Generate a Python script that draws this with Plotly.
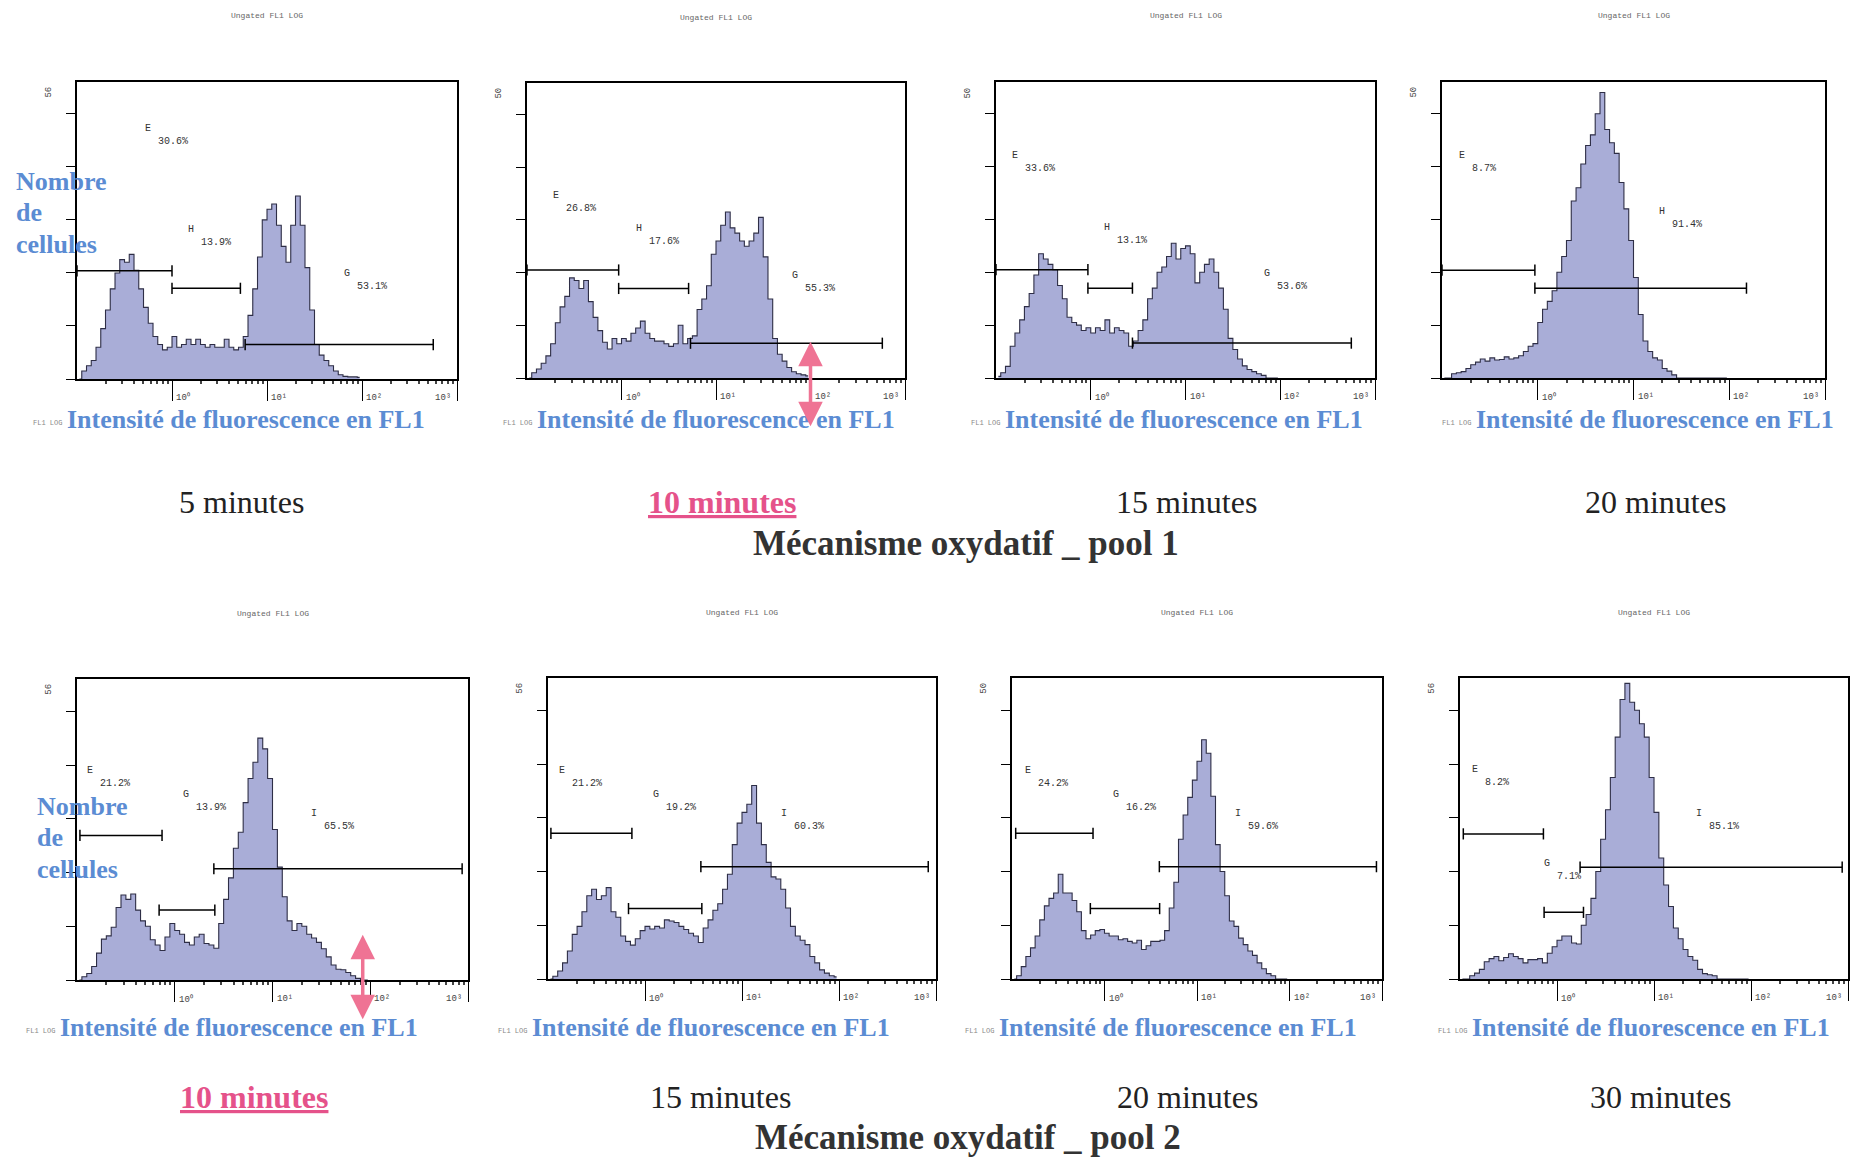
import plotly.graph_objects as go

W, H = 1854, 1158

# ---------------- data ----------------
# histogram bin centres, log10(FL1 intensity), 0.05-decade bins
log_bins = [round(-0.975 + 0.05 * i, 3) for i in range(60)]

counts_p1 = [0, 1.5, 2.5, 3.5, 6, 9.5, 13, 17, 20, 22.5,
             22, 23.5, 20.5, 17, 13.5, 10.5, 8, 6.5, 5.5, 6,
             8, 6, 6.5, 7.5, 6.5, 7.5, 6.5, 6, 6.5, 6,
             6, 7.5, 6, 5.5, 6, 8, 12, 17, 23, 30,
             32, 33, 29, 25, 22, 29, 34.5, 29, 21, 13,
             6.5, 4.5, 3.5, 2.5, 1.5, 0.8, 0.5, 0.4, 0.4, 0.3]
counts_p2 = [0, 1, 1.7, 2.8, 4.2, 6.5, 10.5, 13.5, 15.5, 19,
             18.5, 17, 18.5, 14.5, 11.5, 9, 6.8, 5.5, 7.5, 6.5,
             7.5, 7, 8.5, 9.5, 10.8, 8.5, 7.5, 7, 7, 6.5,
             6, 6.5, 10, 6.5, 7.5, 8, 13, 15, 17.5, 23.5,
             26, 29, 31.5, 28.5, 27.5, 26, 25, 26, 27.5, 30.5,
             23, 15, 7.5, 4.5, 3.2, 2, 1.2, 0.8, 0.6, 0.4]
counts_p3 = [0.3, 1, 2.2, 6, 8.5, 11, 13.5, 16, 19.5, 23.5,
             22.5, 21.5, 20.5, 17.5, 15, 11.5, 10.5, 10, 9, 9.5,
             8.5, 9.5, 9, 11, 8.5, 9.5, 9, 8.5, 6, 7,
             9, 11, 15, 17, 20, 21, 23, 25.5, 22.5, 24.5,
             25, 23.5, 18, 20, 21.5, 22.5, 20, 17, 13, 7.5,
             5.4, 3.6, 2.3, 1.6, 1.2, 0.8, 0.5, 0, 0, 0]
counts_p4 = [0, 0, 0.8, 1, 1.2, 1.8, 2.5, 3, 3.6, 3.2,
             3.8, 3.4, 3.5, 4, 3.6, 3.8, 4.2, 5, 6, 6.5,
             10.5, 13, 14.5, 16.5, 20, 23, 26, 33.5, 36, 40.5,
             44, 46, 50, 54, 47, 44.5, 42.5, 37, 32, 26,
             19, 12, 7, 5, 3.8, 3.4, 1.8, 1.3, 0.6, 0,
             0, 0, 0, 0, 0, 0, 0, 0, 0, 0]
counts_p5 = [0, 0.6, 1.2, 2.5, 5, 7.6, 8.2, 9.8, 13.5, 15.8,
             15, 16, 13, 11, 10, 7.5, 6.5, 5.5, 8, 10.5,
             9.2, 8.5, 7, 6.5, 8, 8.5, 6.8, 6.5, 5.9, 10.5,
             15, 19, 24.5, 27.5, 33, 37.5, 40.5, 45, 43, 37.5,
             28, 21, 15.5, 11, 9.2, 10.5, 10, 8.5, 7.8, 7,
             5.8, 4.3, 2.8, 2, 1.9, 1.4, 0.8, 0.3, 0, 0]
counts_p6 = [0, 0.5, 1.5, 3, 5.2, 8.3, 9.8, 12.5, 15.5, 16.7,
             14.8, 15.5, 17, 12.5, 11.5, 8, 7, 6.3, 7.5, 9,
             9.8, 9.3, 9.8, 9.5, 11, 10.8, 10.5, 9.8, 9.2, 8.5,
             8, 6.8, 9.5, 11, 12.8, 14, 16.7, 19.5, 25, 29,
             31, 32.5, 36, 29, 25, 21.7, 19, 18.6, 16.7, 13.2,
             9.8, 8, 7.2, 6.4, 4.2, 3, 1.7, 1.1, 0.6, 0.4]
counts_p7 = [0, 0.6, 2.3, 4.2, 5.8, 8, 11, 13.6, 15, 16,
             19.5, 16, 16, 14.6, 12.5, 9, 7.5, 8.2, 9, 9.2,
             8.5, 8, 8, 7.3, 7.5, 7, 6.7, 7.2, 5.5, 6.2,
             7, 7, 7.2, 9, 13.2, 18, 26, 30.5, 33.8, 37,
             40.5, 44.5, 42, 34, 25, 20, 15.5, 10.8, 9.8, 7.6,
             6.4, 5.2, 4.4, 3, 1.9, 1, 0.6, 0, 0, 0]
counts_p8 = [0, 0, 0.6, 1.1, 1.8, 3.2, 3.8, 4.2, 3.4, 4,
             4.7, 4.2, 3.8, 3, 3.6, 3.6, 3.8, 3, 4.8, 6,
             7.2, 8, 8, 6.7, 6.5, 10, 12, 15, 20, 26,
             31.5, 37.5, 45, 52, 55, 51.5, 50, 47.5, 45, 37.5,
             31, 22.5, 17.5, 13.5, 9.5, 7.5, 5.5, 4.2, 3.5, 1.8,
             1, 0.8, 0.6, 0, 0, 0, 0, 0, 0, 0]
panel_counts = [counts_p1, counts_p2, counts_p3, counts_p4,
                counts_p5, counts_p6, counts_p7, counts_p8]

# gates: (name, start log10, end log10, level, percent, label log10, label level)
gates_p1 = [("E", -1.0, 0.0, 20.4, "30.6%", -0.25, 47.3),
            ("H", 0.0, 0.72, 17.1, "13.9%", 0.20, 28.1),
            ("G", 0.77, 2.75, 6.5, "53.1%", 1.84, 19.9)]
gates_p2 = [("E", -1.0, -0.03, 20.5, "26.8%", -0.69, 34.7),
            ("H", -0.03, 0.71, 17.0, "17.6%", 0.19, 28.4),
            ("G", 0.73, 2.76, 6.6, "55.3%", 1.84, 19.4)]
gates_p3 = [("E", -1.0, -0.03, 20.5, "33.6%", -0.80, 42.0),
            ("H", -0.03, 0.44, 17.0, "13.1%", 0.17, 28.4),
            ("G", 0.44, 2.75, 6.6, "53.6%", 1.86, 19.8)]
gates_p4 = [("E", -1.0, -0.03, 20.4, "8.7%", -0.79, 42.0),
            ("H", -0.03, 2.18, 17.0, "91.4%", 1.30, 31.5)]
gates_p5 = [("E", -0.97, -0.13, 26.9, "21.2%", -0.87, 39.0),
            ("G", -0.16, 0.41, 13.0, "13.9%", 0.12, 34.6),
            ("I", 0.40, 2.94, 20.7, "65.5%", 1.42, 30.9)]
gates_p6 = [("E", -0.97, -0.135, 27.1, "21.2%", -0.86, 38.8),
            ("G", -0.17, 0.586, 13.1, "19.2%", 0.115, 34.4),
            ("I", 0.576, 2.92, 20.9, "60.3%", 1.43, 30.8)]
gates_p7 = [("E", -0.96, -0.124, 27.1, "24.2%", -0.83, 38.8),
            ("G", -0.153, 0.596, 13.1, "16.2%", 0.128, 34.4),
            ("I", 0.593, 2.94, 20.9, "59.6%", 1.44, 30.7)]
gates_p8 = [("E", -0.966, -0.14, 27.0, "8.2%", -0.845, 39.0),
            ("G", -0.133, 0.273, 12.4, "7.1%", -0.106, 21.4),
            ("I", 0.238, 2.94, 20.8, "85.1%", 1.46, 30.8)]
panel_gates = [gates_p1, gates_p2, gates_p3, gates_p4,
               gates_p5, gates_p6, gates_p7, gates_p8]

ymax_labels = ["56", "50", "50", "50", "56", "56", "50", "56"]
decade_vals = [1, 10, 100, 1000]
decade_logs = [0, 1, 2, 3]
decade_labels = ["10⁰", "10¹", "10²", "10³"]
minor_vals = [m * 10.0 ** d for d in range(-1, 3) for m in range(2, 10)]

time_labels = ["5 minutes", "10 minutes", "15 minutes", "20 minutes",
               "10 minutes", "15 minutes", "20 minutes", "30 minutes"]
highlighted = [False, True, False, False, True, False, False, False]
pool_titles = ["Mécanisme oxydatif _ pool 1", "Mécanisme oxydatif _ pool 2"]
top_caption = "Ungated FL1 LOG"
axis_caption = "FL1 LOG"
x_title = "Intensité de fluorescence en FL1"
y_title_lines = ["Nombre", "de", "cellules"]

# arrows marking a position on the intensity axis: (panel, log10 FL1, count)
arrows = [(2, 2.0, 6.9), (5, 1.923, 8.4)]

# ---------------- layout geometry (pixels) ----------------
boxes = [(77, 457, 82, 379), (527, 905, 83, 378), (996, 1375, 82, 378), (1442, 1825, 82, 378),
         (77, 468, 679, 980), (548, 936, 678, 979), (1012, 1382, 678, 979), (1460, 1848, 678, 979)]
xlabel_cx = [246, 716, 1184, 1655, 239, 711, 1178, 1651]
xlabel_y = [419, 419, 419, 419, 1027, 1027, 1027, 1027]
xlabel_halfwidth = 180
time_cx = [241, 722, 1186, 1655, 254, 720, 1187, 1660]
time_y = [502, 502, 502, 502, 1097, 1097, 1097, 1097]
title_pos = [(966, 543), (968, 1137)]
ytitle_pos = [(14, [181, 213, 244]), (35, [806, 837, 869])]

BLUE = "#5b8cd3"
PINK = "#e5528a"
ARROW = "#ef7394"
SERIF = "Liberation Serif"
MONO = "Liberation Mono"


def px(x):
    return x / W


def py(y):
    return 1 - y / H


fig = go.Figure()
layout = dict(width=W, height=H, margin=dict(l=0, r=0, t=0, b=0),
              paper_bgcolor="white", plot_bgcolor="white", showlegend=False)
annotations = []

for k in range(1, 9):
    x0, x1, y0, y1 = boxes[k - 1]
    xs = "" if k == 1 else str(k)
    xname, yname = "x" + xs, "y" + xs
    layout["xaxis" + xs] = dict(
        domain=[px(x0), px(x1)], anchor=yname, type="log", range=[-1, 3],
        showline=True, mirror=True, linecolor="black", linewidth=1.5,
        ticks="outside", tickvals=decade_vals, ticklen=20, tickwidth=1,
        tickcolor="black", showticklabels=False, showgrid=False, zeroline=False,
        minor=dict(tickvals=minor_vals, ticks="outside", ticklen=3, tickwidth=1.5,
                   tickcolor="#444", showgrid=False))
    layout["yaxis" + xs] = dict(
        domain=[py(y1), py(y0)], anchor=xname, range=[0, 56],
        showline=True, mirror=True, linecolor="black", linewidth=1.5,
        ticks="outside", tickvals=[0, 10, 20, 30, 40, 50], ticklen=9, tickwidth=1.2,
        tickcolor="black", showticklabels=False, showgrid=False, zeroline=False)

    counts = panel_counts[k - 1]
    fig.add_trace(go.Scatter(
        x=[10 ** c for c in log_bins], y=counts, xaxis=xname, yaxis=yname,
        mode="lines", line=dict(shape="hvh", color="#2e2e46", width=1.1),
        fill="tozeroy", fillcolor="#a9add7", hoverinfo="skip"))

    for name, gs, ge, lvl, pct, lx, ly in panel_gates[k - 1]:
        fig.add_trace(go.Scatter(
            x=[10 ** gs, 10 ** ge], y=[lvl, lvl], xaxis=xname, yaxis=yname,
            mode="lines+markers", line=dict(color="black", width=1.5),
            marker=dict(symbol="line-ns-open", size=8,
                        line=dict(color="black", width=1.5)),
            hoverinfo="skip"))
        annotations.append(dict(xref=xname, yref=yname, x=lx, y=ly, text=name,
                                showarrow=False, xanchor="center", yanchor="middle",
                                font=dict(family=MONO, size=10, color="#333")))
        annotations.append(dict(xref=xname, yref=yname, x=lx, y=ly, text=pct,
                                showarrow=False, xanchor="left", yanchor="middle",
                                xshift=8, yshift=-13,
                                font=dict(family=MONO, size=10, color="#333")))

    # decade labels next to the major ticks (last one sits left of its tick)
    for dlog, dl in zip(decade_logs, decade_labels):
        last = dlog == decade_logs[-1]
        annotations.append(dict(xref=xname, yref=yname + " domain", x=dlog,
                                y=0, text=dl, showarrow=False,
                                xanchor="right" if last else "left",
                                yanchor="middle", xshift=-4 if last else 2, yshift=-19,
                                font=dict(family=MONO, size=9, color="#444")))
    # max count label
    annotations.append(dict(xref=xname + " domain", yref=yname, x=0, y=54,
                            text=ymax_labels[k - 1], showarrow=False, textangle=-90,
                            xanchor="center", yanchor="middle", xshift=-28,
                            font=dict(family=MONO, size=9, color="#444")))
    # small caption above plot
    annotations.append(dict(xref="paper", yref="paper", x=px((x0 + x1) / 2),
                            y=py(y0 - 66), text=top_caption, showarrow=False,
                            xanchor="center", yanchor="middle",
                            font=dict(family=MONO, size=8, color="#666")))
    # small original axis caption, just left of the blue title
    annotations.append(dict(xref="paper", yref="paper",
                            x=px(xlabel_cx[k - 1] - xlabel_halfwidth - 2),
                            y=py(xlabel_y[k - 1] + 4), text=axis_caption, showarrow=False,
                            xanchor="right", yanchor="middle",
                            font=dict(family=MONO, size=7, color="#888")))
    # blue x title
    annotations.append(dict(xref="paper", yref="paper", x=px(xlabel_cx[k - 1]),
                            y=py(xlabel_y[k - 1]), text="<b>" + x_title + "</b>",
                            showarrow=False, xanchor="center", yanchor="middle",
                            font=dict(family=SERIF, size=26, color=BLUE)))
    # time label
    if highlighted[k - 1]:
        ttext = "<b><u>" + time_labels[k - 1] + "</u></b>"
        tcol = PINK
    else:
        ttext = time_labels[k - 1]
        tcol = "#222"
    annotations.append(dict(xref="paper", yref="paper", x=px(time_cx[k - 1]),
                            y=py(time_y[k - 1]), text=ttext, showarrow=False,
                            xanchor="center", yanchor="middle",
                            font=dict(family=SERIF, size=32, color=tcol)))

for (tx, ty), t in zip(title_pos, pool_titles):
    annotations.append(dict(xref="paper", yref="paper", x=px(tx), y=py(ty),
                            text="<b>" + t + "</b>", showarrow=False,
                            xanchor="center", yanchor="middle",
                            font=dict(family=SERIF, size=35, color="#333")))

for lx, lys in ytitle_pos:
    for line, ly in zip(y_title_lines, lys):
        annotations.append(dict(xref="paper", yref="paper", x=px(lx), y=py(ly),
                                text="<b>" + line + "</b>", showarrow=False,
                                xanchor="left", yanchor="middle",
                                font=dict(family=SERIF, size=26, color=BLUE)))

for pk, alog, acount in arrows:
    xs = "" if pk == 1 else str(pk)
    annotations.append(dict(xref="x" + xs, yref="y" + xs, x=alog, y=acount,
                            ax=0, ay=86, text="", showarrow=True,
                            arrowside="end+start", arrowhead=2, startarrowhead=2,
                            arrowsize=1.4, startarrowsize=1.4, arrowwidth=3.5,
                            arrowcolor=ARROW, standoff=0, startstandoff=0))

layout["annotations"] = annotations
fig.update_layout(**layout)
fig.write_html("out.html")
